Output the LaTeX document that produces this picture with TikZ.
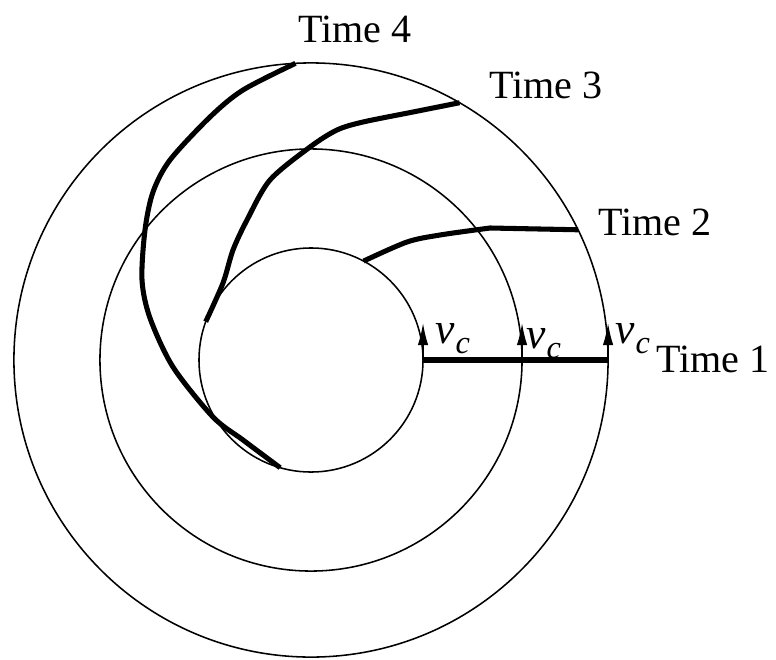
\documentclass[tikz,border=0pt]{standalone}
\usepackage{fontspec}
\setmainfont{Liberation Serif}
\usepackage{tikz}
\usetikzlibrary{positioning, arrows.meta}

\newcommand{\vlbl}{\textit{v}\kern0.02em\raisebox{-0.25em}{\fontsize{23}{23}\selectfont\textit{c}}}

\begin{document}
\begin{tikzpicture}[
    x=0.025cm, y=-0.025cm,
    orbit/.style={draw, circle, inner sep=0pt, outer sep=0pt, minimum size=#1, line width=1.1pt},
    trace/.style={line width=3.6pt, line join=round},
    lbl/.style={font=\fontsize{28.5}{30}\selectfont, anchor=base west, inner sep=0pt},
    vlab/.style={font=\fontsize{31}{32}\selectfont, anchor=base west, inner sep=0pt},
    vel/.style={-{Latex[length=0.55cm, width=0.26cm]}, line width=1.1pt},
  ]
  \useasboundingbox (0,0) rectangle (776,659);

  % ---- Rings ----
  \coordinate (o) at (311,360);
  \node[orbit=5.6cm] (inner) at (o) {};
  \node[orbit=10.55cm] (middle) at (o) {};
  \node[orbit=14.85cm] (outer) at (o) {};

  % ---- Material lines ----
  \draw[trace] (inner.0) -- (outer.0);
  \draw[trace] plot[smooth, tension=0.5] coordinates {(inner.62) (407,242) (440,235) (490,228)} -- (outer.26);
  \draw[trace] plot[smooth, tension=0.5] coordinates {(inner.160) (223,283) (233,250) (247,220) (270,180) (310,147) (337,130) (363,122) (413,112) (outer.60)};
  \draw[trace] plot[smooth, tension=0.5] coordinates {(inner.254) (243,440) (213,417) (173,367) (150,318) (142,280) (145,230) (153,192) (170,160) (210,117) (243,90) (outer.93)};

  % ---- Velocities ----
  \draw[vel] (inner.0) -- ++(0,-37);
  \draw[vel] (middle.0) -- ++(0,-37);
  \draw[vel] (outer.0) -- ++(0,-37);
  \node[vlab] (v1) at (435,343) {\vlbl};
  \node[vlab] (v2) at (526,348) {\vlbl};
  \node[vlab] (v3) at (615,343) {\vlbl};

  % ---- Labels ----
  \node[lbl] (t1) at (656,372) {Time 1};
  \node[lbl] (t2) at (598,235) {Time 2};
  \node[lbl] (t3) at (489,98) {Time 3};
  \node[lbl] (t4) at (298,42) {Time 4};

\end{tikzpicture}
\end{document}
